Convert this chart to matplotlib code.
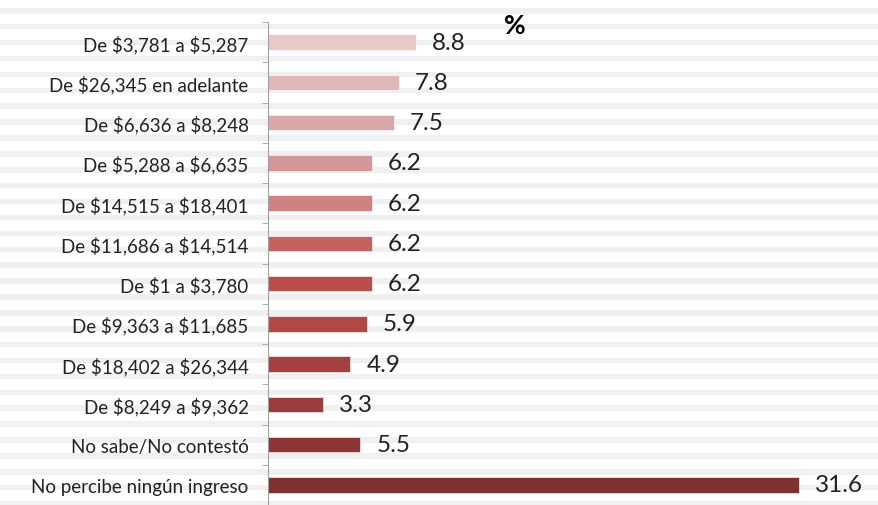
import matplotlib.pyplot as plt
import numpy as np

categorias = [
    'De $3,781 a $5,287',
    'De $26,345 en adelante',
    'De $6,636 a $8,248',
    'De $5,288 a $6,635',
    'De $14,515 a $18,401',
    'De $11,686 a $14,514',
    'De $1 a $3,780',
    'De $9,363 a $11,685',
    'De $18,402 a $26,344',
    'De $8,249 a $9,362',
    'No sabe/No contestó',
    'No percibe ningún ingreso',
]
porcentajes = [8.8, 7.8, 7.5, 6.2, 6.2, 6.2, 6.2, 5.9, 4.9, 3.3, 5.5, 31.6]
colores = ['#e8c8c9', '#e0b8b9', '#daa8a8', '#d49696', '#cc8382', '#c4625f',
           '#bb4d4a', '#b24846', '#a44140', '#983d3c', '#8c3535', '#7f3030']

plt.rcParams['font.family'] = ['Lato', 'DejaVu Sans']
plt.rcParams['text.parse_math'] = False

W, H = 879, 506
fig = plt.figure(figsize=(W / 100, H / 100), dpi=100)

# fondo rayado
bg = fig.add_axes([0, 0, 1, 1], zorder=0)
bg.set_xlim(0, W)
bg.set_ylim(H, 0)
bg.axis('off')
for y0 in np.arange(9, H, 15.9):
    bg.axhspan(y0, y0 + 5.5, color='#f0f0f0', lw=0)

ax = fig.add_axes([268 / W, 0, 604.8 / W, 1 - 23 / H], zorder=1)
ax.patch.set_alpha(0)
y = np.arange(len(categorias))
ax.barh(y, porcentajes, height=0.38, color=colores, edgecolor='white', linewidth=0.4)
ax.set_ylim(len(categorias) - 0.5, -0.5)
ax.set_xlim(0, 36)

for yi, v in zip(y, porcentajes):
    ax.text(v + 0.95, yi, f'{v:.1f}', va='center', ha='left', fontsize=17.5, color='#222222')

ax.set_yticks(y)
ax.set_yticklabels(categorias, fontsize=13.5, color='#222222')
ax.set_yticks(np.arange(len(categorias) + 1) - 0.5, minor=True)
ax.tick_params(axis='y', which='major', length=0, pad=14)
ax.tick_params(axis='y', which='minor', length=4, color='#a0a0a0')
ax.set_xticks([])
for s in ['top', 'right', 'bottom']:
    ax.spines[s].set_visible(False)
ax.spines['left'].set_color('#a0a0a0')

fig.text(515 / W, 1 - 26 / H, '%', ha='center', va='center', fontsize=19, fontweight='bold')

fig.savefig('out.png', dpi=100)
